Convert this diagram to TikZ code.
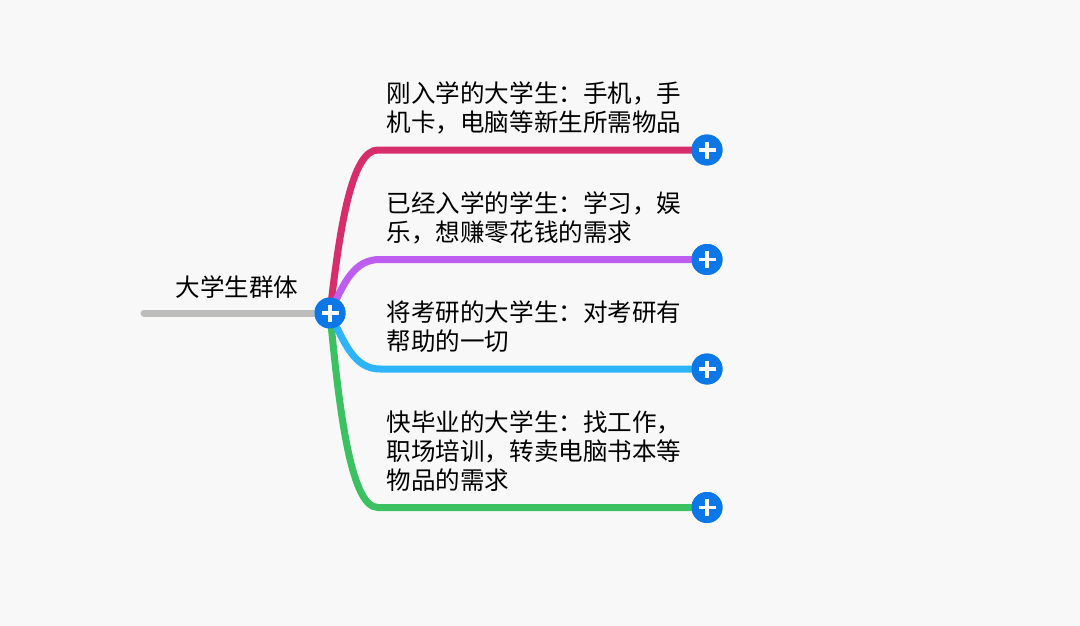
\documentclass[tikz,border=0pt]{standalone}
\usepackage{fontspec}
\setmainfont{Noto Sans CJK SC}
\definecolor{bgcol}{HTML}{F7F8F7}
\definecolor{rootcol}{HTML}{BDBEBC}
\definecolor{hubcol}{HTML}{0C78E8}
\definecolor{redcol}{HTML}{D72E6B}
\definecolor{purplecol}{HTML}{BE5EF0}
\definecolor{bluecol}{HTML}{2DB4FB}
\definecolor{greencol}{HTML}{3BC161}
\tikzset{
	branch/.style = {line width = 7, line cap = round},
	plusbtn/.style = {circle, fill = hubcol, minimum size = 31, inner sep = 0,
		path picture = {
			\draw [white, line width = 3.6] ([xshift = -8.5]path picture bounding box.center) -- ([xshift = 8.5]path picture bounding box.center);
			\draw [white, line width = 3.6] ([yshift = -8.5]path picture bounding box.center) -- ([yshift = 8.5]path picture bounding box.center);
		}},
	topic/.style = {anchor = north west, inner sep = 0, align = left, font = \fontsize{24.55}{29}\selectfont},
}
\begin{document}
\begin{tikzpicture}[x = 1pt, y = -1pt]
	\useasboundingbox [fill = bgcol] (0,0) rectangle (1080,626);
	\coordinate (start) at (144,313);
	\node [plusbtn] (hub) at (330,313) {};
	\node [plusbtn] (plusa) at (707,150) {};
	\node [plusbtn] (plusb) at (707,259.5) {};
	\node [plusbtn] (plusc) at (707,369) {};
	\node [plusbtn] (plusd) at (707,507.5) {};
	\draw [branch, color = rootcol] (start) -- (hub.center);
	\draw [branch, color = redcol] (hub.center) .. controls (340,225) and (352,150) .. (378,150) -- (plusa.center);
	\draw [branch, color = greencol] (hub.center) .. controls (340,420) and (352,507.5) .. (378,507.5) -- (plusd.center);
	\draw [branch, color = purplecol] (hub.center) .. controls (345,280) and (355,259.5) .. (380,259.5) -- (plusb.center);
	\draw [branch, color = bluecol] (hub.center) .. controls (345,345) and (355,369) .. (380,369) -- (plusc.center);
	\node [plusbtn] at (hub) {};
	\node [plusbtn] at (plusa) {};
	\node [plusbtn] at (plusb) {};
	\node [plusbtn] at (plusc) {};
	\node [plusbtn] at (plusd) {};
	\node [topic] (root) at (175.5,275.5) {大学生群体};
	\node [topic] (texta) at (386.5,81.5) {刚入学的大学生：手机，手\\机卡，电脑等新生所需物品};
	\node [topic] (textb) at (386.5,191.5) {已经入学的学生：学习，娱\\乐，想赚零花钱的需求};
	\node [topic] (textc) at (386.5,300.5) {将考研的大学生：对考研有\\帮助的一切};
	\node [topic] (textd) at (386.5,410.5) {快毕业的大学生：找工作，\\职场培训，转卖电脑书本等\\物品的需求};
\end{tikzpicture}
\end{document}
